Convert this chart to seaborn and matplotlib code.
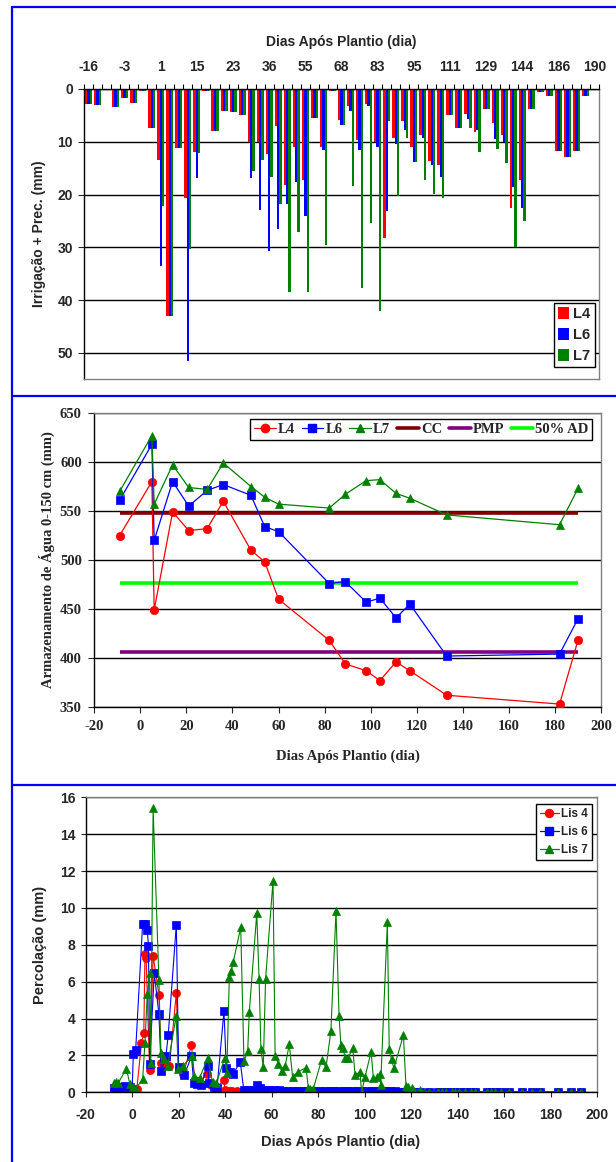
import numpy as np
import pandas as pd
import matplotlib
matplotlib.use("Agg")
import matplotlib.pyplot as plt
import seaborn as sns
from matplotlib.patches import Patch
from matplotlib.lines import Line2D

# ---------------- DATA ----------------
# Panel 1: irrigation + precipitation per event (57 categories, every 4th labelled)
rotulos_dias = ['-16', '-3', '1', '15', '23', '36', '55', '68', '83', '95',
                '111', '129', '144', '186', '190']
irrig_L4 = [2.9, 3.1, 0, 3.5, 1.7, 2.7, 0.4, 7.3, 13.4, 42.9, 11.2, 20.6, 12.0, 0.4, 8.0,
            4.1, 4.4, 4.9, 10.0, 10.0, 12.4, 7.1, 18.1, 10.9, 17.2, 5.5, 11.0, 0.4, 5.9,
            3.3, 9.6, 2.8, 10.0, 28.3, 9.2, 6.1, 11.0, 8.8, 13.6, 14.3, 4.9, 7.3, 4.7,
            8.1, 3.8, 6.4, 8.8, 22.6, 17.2, 3.8, 0.5, 1.3, 11.8, 12.9, 11.7, 1.3, 0]
irrig_L6 = [2.9, 3.1, 0, 3.5, 1.7, 2.7, 0.4, 7.3, 33.6, 42.9, 11.2, 51.6, 16.9, 0.4, 8.0,
            4.1, 4.4, 4.9, 16.9, 22.9, 30.6, 26.6, 21.7, 17.6, 24.1, 5.5, 11.5, 0.4, 6.9,
            4.1, 11.6, 3.3, 10.9, 23.2, 10.4, 7.7, 13.9, 9.2, 14.3, 16.6, 4.9, 7.3, 5.6,
            7.7, 3.8, 9.4, 10.0, 18.6, 22.6, 3.8, 0.5, 1.3, 11.8, 12.9, 11.7, 1.3, 0]
irrig_L7 = [2.9, 3.1, 0, 3.5, 1.7, 2.7, 0.4, 7.3, 22.1, 42.9, 11.2, 30.3, 12.2, 0.4, 8.0,
            4.1, 4.4, 4.9, 15.6, 13.4, 16.6, 21.8, 38.4, 27.1, 38.4, 5.5, 29.5, 0.4, 6.9,
            18.3, 37.6, 25.3, 42.1, 6.1, 20.3, 9.2, 13.9, 17.3, 19.8, 20.6, 4.9, 7.3, 7.4,
            11.9, 3.8, 11.3, 14.1, 30.0, 25.0, 3.8, 0.5, 1.3, 11.8, 12.9, 11.7, 1.3, 0]

# Panel 2: soil water storage 0-150 cm
dias_arm = [-9, 5, 6, 14, 21, 29, 36, 48, 54, 60, 82, 89, 98, 104, 111, 117, 133, 182, 190]
arm_L4 = [525, 580, 449, 549, 530, 532, 560, 510, 498, 460, 418, 394, 387, 377, 396, 387, 362, 353, 418]
arm_L6 = [561, 618, 520, 580, 555, 571, 577, 566, 534, 529, 476, 478, 457, 461, 441, 455, 402, 404, 440]
arm_L7 = [570, 627, 557, 597, 574, 572, 599, 575, 564, 557, 553, 567, 581, 582, 568, 563, 546, 536, 573]
arm_CC = 548
arm_PMP = 406
arm_AD50 = 477

# Panel 3: percolation
cauda_x = [48, 50, 52, 53.5, 55, 57, 59, 61, 63, 65,
           67, 69, 71, 73, 75, 77, 79, 81, 83, 85,
           87, 89, 91, 93, 95, 97, 99, 101, 103, 105,
           107, 109, 111, 113, 115.5, 117, 119, 121, 124, 127.6,
           131.5, 133.2, 134.9, 137.4, 139.1, 140.8, 143.4, 145.9, 147.6, 152.7,
           154.4, 156, 158.6, 162, 167.9, 172.1, 175.5, 183.1, 189, 193.2]
cauda_L4 = [0.02] * 10 + [0.02] * 10 + [0.02] * 10 + [0.02] * 10 + [0.02] * 10 + [0.02] * 10
cauda_L6 = [0.15, 0.12, 0.1, 0.4, 0.25, 0.15, 0.12, 0.1, 0.1, 0.08,
            0.08, 0.07, 0.06, 0.06, 0.05, 0.05, 0.05, 0.05, 0.05, 0.05,
            0.05, 0.05, 0.05, 0.05, 0.05, 0.05, 0.05, 0.05, 0.05, 0.05,
            0.05, 0.05, 0.05, 0.05, 0.04, 0.04, 0.04, 0.04, 0.03, 0.03,
            0.03, 0.03, 0.03, 0.03, 0.03, 0.03, 0.03, 0.03, 0.03, 0.03,
            0.03, 0.03, 0.03, 0.03, 0.03, 0.03, 0.03, 0.03, 0.03, 0.03]
perc_x_L4 = [-8, -7, -6, -5, -2, 0, 1, 2, 4, 5,
             5.5, 6, 7.5, 9, 11.5, 12.5, 14.5, 16, 19, 20,
             22, 25.5, 27, 29, 32, 34, 36, 39.5, 40, 41,
             42, 43, 45, 47] + cauda_x
perc_y_L4 = [0.15, 0.1, 0.12, 0.08, 0.1, 0.1, 0.15, 0.2, 2.65, 3.2,
             7.5, 7.3, 1.2, 7.4, 5.3, 1.6, 1.5, 1.4, 5.4, 1.3,
             1.0, 2.55, 0.6, 0.5, 1.0, 0.4, 0.25, 0.65, 0.1, 0.08,
             0.06, 0.05, 0.05, 0.04] + cauda_L4
perc_x_L6 = [-8, -7, -6, -5, -3, -1, 0, 0.5, 1.5, 4.5,
             5.5, 6.5, 7, 7.5, 9.5, 11.5, 12.5, 14.5, 15.5, 19,
             20, 22.5, 25.5, 26.5, 28, 29.5, 32.5, 33, 35, 36.5,
             39.5, 40.5, 42, 43.5, 46.5] + cauda_x
perc_y_L6 = [0.25, 0.2, 0.25, 0.3, 0.35, 0.3, 0.2, 2.1, 2.3, 9.15,
             9.15, 8.8, 7.95, 1.55, 6.45, 4.25, 1.15, 1.95, 3.1, 9.1,
             1.35, 0.95, 1.95, 0.5, 0.45, 0.4, 1.4, 0.5, 0.3, 0.25,
             4.4, 1.3, 1.1, 1.0, 1.65] + cauda_L6
perc_x_L7 = [-8, -7, -6, -2.5, -1, 0.5, 1.5, 4.5, 5.5, 6.5,
             7.5, 8, 9, 11.5, 12.3, 13.5, 15.3, 18.9, 19.8, 21.7,
             25.6, 26.8, 29, 32.5, 34.6, 36.2, 39.8, 40.7, 41.8, 42.6,
             43.5, 46.7, 48.1, 49.7, 50.4, 53.6, 54.6, 55.4, 56.4, 57.4,
             60.6, 61.5, 62.9, 64.3, 65.8, 67.6, 69, 71.5, 74.8, 75.8,
             76.5, 77.9, 81.5, 83.4, 85.5, 87.7, 89, 89.8, 90.8, 91.6,
             93, 94.9, 95.9, 98, 98.7, 100.2, 102.8, 103.8, 105.5, 106.6,
             106.9, 109.8, 110.6, 111.6, 112.6, 116.7, 117.8, 118.8, 120.2, 121,
             123.8, 127.6, 131.5, 133.2, 134.9, 137.4, 139.1, 140.8, 143.4, 145.9,
             147.6, 152.7, 154.4, 156, 158.6, 162, 167.9, 172.1, 175.5, 183.1,
             189, 193.2]
perc_y_L7 = [0.5, 0.57, 0.5, 1.29, 0.45, 0.3, 0.2, 0.7, 2.7, 5.35,
             6.48, 1.6, 15.4, 6.08, 2.13, 1.8, 1.45, 4.12, 1.29, 1.41,
             1.95, 0.86, 0.78, 1.85, 0.55, 0.48, 1.86, 1.05, 6.23, 6.56,
             7.07, 8.94, 1.69, 2.24, 4.37, 9.7, 6.16, 2.33, 1.39, 6.16,
             11.47, 1.98, 1.53, 1.17, 1.42, 2.6, 0.85, 1.12, 1.33, 0.25,
             0.2, 0.18, 1.75, 1.35, 3.32, 9.85, 4.15, 2.56, 2.38, 1.84,
             1.87, 2.42, 0.93, 1.12, 0.0, 0.84, 2.2, 0.75, 0.81, 0.99,
             0.39, 9.21, 2.33, 1.78, 1.3, 3.1, 0.36, 0.3, 0.21, 0.15,
             0.12, 0.03, 0.02, 0.02, 0.02, 0.02, 0.02, 0.02, 0.02, 0.02,
             0.02, 0.02, 0.02, 0.02, 0.02, 0.02, 0.02, 0.02, 0.02, 0.02,
             0.02, 0.02]

# ---------------- STYLE ----------------
sns.set_style("ticks")
plt.rcParams['font.family'] = ['Liberation Sans', 'DejaVu Sans']
plt.rcParams['font.weight'] = 'bold'

W, H = 616, 1162
fig = plt.figure(figsize=(W / 100, H / 100), dpi=100)
fig.patch.set_facecolor('white')

def add_ax(l, t, r, b):
    return fig.add_axes([l / W, 1 - b / H, (r - l) / W, (b - t) / H])

RED, BLUE, GREEN = '#FF0000', '#0000FF', '#008000'
GRAY = '#808080'
SANS = ['Liberation Sans', 'DejaVu Sans']
SERIF = ['Liberation Serif', 'DejaVu Serif']

def frame(ax, top_col, right_col, bottom_col, left_col):
    for side, c in zip(['top', 'right', 'bottom', 'left'], [top_col, right_col, bottom_col, left_col]):
        ax.spines[side].set_visible(True)
        ax.spines[side].set_color(c)
        ax.spines[side].set_linewidth(1.0)

# ---------------- PANEL 1 ----------------
ax1 = add_ax(84, 89, 599, 379.4)
n = len(irrig_L4)
df1 = pd.DataFrame({
    'evento': list(range(n)) * 3,
    'valor': irrig_L4 + irrig_L6 + irrig_L7,
    'lis': ['L4'] * n + ['L6'] * n + ['L7'] * n,
})
sns.barplot(data=df1, x='evento', y='valor', hue='lis', palette=[RED, BLUE, GREEN],
            saturation=1, width=0.78, errorbar=None, linewidth=0, ax=ax1, legend=False)
ax1.set_ylim(55, 0)
ax1.set_xlim(-0.5, n - 0.5)
ax1.xaxis.tick_top()
ax1.set_xticks(list(range(0, n, 4)))
ax1.set_xticklabels(rotulos_dias, fontsize=10, fontweight='bold')
ax1.set_xticks(np.arange(-0.5, n, 1.0), minor=True)
ax1.tick_params(axis='x', which='major', length=0, pad=11, top=True, bottom=False)
ax1.tick_params(axis='x', which='minor', length=3.6, width=0.8, color='black', top=True, bottom=False)
ax1.set_yticks([0, 10, 20, 30, 40, 50])
ax1.set_yticklabels(['0', '10', '20', '30', '40', '50'], fontsize=10, fontweight='bold')
ax1.tick_params(axis='y', length=4, width=0.8, pad=4)
ax1.yaxis.grid(True, color='black', linewidth=1.0)
ax1.set_axisbelow(True)
ax1.set_xlabel('')
ax1.set_ylabel('')
frame(ax1, 'black', GRAY, GRAY, 'black')
h1 = [Patch(facecolor=c, edgecolor='none') for c in [RED, BLUE, GREEN]]
leg1 = ax1.legend(h1, ['L4', 'L6', 'L7'], loc='upper left',
                  bbox_to_anchor=(554 / W, 1 - 303 / H), bbox_transform=fig.transFigure,
                  frameon=True, fancybox=False, edgecolor='black', framealpha=1,
                  prop={'family': SANS, 'weight': 'bold', 'size': 10.5},
                  handlelength=0.7, handleheight=0.9, handletextpad=0.3, labelspacing=0.45,
                  borderpad=0.3, borderaxespad=0)
leg1.get_frame().set_linewidth(1.0)
fig.text(341.5 / W, 1 - 42 / H, 'Dias Após Plantio (dia)', ha='center', va='center',
         fontsize=10, fontweight='bold', family=SANS)
fig.text(39 / W, 1 - 234 / H, 'Irrigação + Prec. (mm)', ha='center', va='center',
         rotation=90, fontsize=10, fontweight='bold', family=SANS)

# ---------------- PANEL 2 ----------------
ax2 = add_ax(94.3, 413, 601, 707)
ax2.set_xlim(-20, 200)
ax2.set_ylim(350, 650)
ax2.yaxis.grid(True, color='black', linewidth=1.0)
ax2.set_axisbelow(True)
xr = [dias_arm[0], dias_arm[-1]]
ax2.plot(xr, [arm_CC, arm_CC], color='#800000', linewidth=2.6, solid_capstyle='butt', zorder=2)
ax2.plot(xr, [arm_PMP, arm_PMP], color='#800080', linewidth=2.6, solid_capstyle='butt', zorder=2)
ax2.plot(xr, [arm_AD50, arm_AD50], color='#00FF00', linewidth=2.6, solid_capstyle='butt', zorder=2)
for ys, c, m, ms in [(arm_L4, RED, 'o', 6.0), (arm_L6, BLUE, 's', 5.6), (arm_L7, GREEN, '^', 6.2)]:
    sns.lineplot(x=dias_arm, y=ys, ax=ax2, color=c, marker=m, markersize=ms,
                 markeredgecolor=c, markeredgewidth=0.5, linewidth=0.9,
                 estimator=None, sort=False, zorder=3)
ax2.set_xticks(list(range(-20, 201, 20)))
ax2.set_xticklabels([str(v) for v in range(-20, 201, 20)], family=SERIF, fontsize=10.5, fontweight='bold')
ax2.set_yticks(list(range(350, 651, 50)))
ax2.set_yticklabels([str(v) for v in range(350, 651, 50)], family=SERIF, fontsize=10.5, fontweight='bold')
ax2.tick_params(axis='both', length=4, width=0.8, pad=5)
frame(ax2, GRAY, GRAY, 'black', 'black')
h2 = [Line2D([], [], color=RED, marker='o', markersize=6, linewidth=0.9),
      Line2D([], [], color=BLUE, marker='s', markersize=5.5, linewidth=0.9),
      Line2D([], [], color=GREEN, marker='^', markersize=6, linewidth=0.9),
      Line2D([], [], color='#800000', linewidth=2.6),
      Line2D([], [], color='#800080', linewidth=2.6),
      Line2D([], [], color='#00FF00', linewidth=2.6)]
leg2 = ax2.legend(h2, ['L4', 'L6', 'L7', 'CC', 'PMP', '50% AD'], loc='upper right',
                  bbox_to_anchor=(592 / W, 1 - 419 / H), bbox_transform=fig.transFigure,
                  ncol=6, frameon=True, fancybox=False, edgecolor='black', framealpha=1,
                  prop={'family': SERIF, 'weight': 'bold', 'size': 10.5},
                  handlelength=1.5, handletextpad=0.15, columnspacing=0.45,
                  borderpad=0.25, borderaxespad=0)
leg2.get_frame().set_linewidth(1.0)
fig.text(347.5 / W, 1 - 756 / H, 'Dias Após Plantio (dia)', ha='center', va='center',
         fontsize=10.5, fontweight='bold', family=SERIF)
fig.text(47 / W, 1 - 560 / H, 'Armazenamento de Água 0-150 cm (mm)', ha='center', va='center',
         rotation=90, fontsize=10.5, fontweight='bold', family=SERIF)

# ---------------- PANEL 3 ----------------
ax3 = add_ax(85.7, 797.3, 597, 1092.3)
ax3.set_xlim(-20, 200)
ax3.set_ylim(0, 16)
ax3.yaxis.grid(True, color='black', linewidth=1.0)
ax3.set_axisbelow(True)
for xs, ys, c, m, ms in [(perc_x_L4, perc_y_L4, RED, 'o', 5.8),
                         (perc_x_L6, perc_y_L6, BLUE, 's', 5.6),
                         (perc_x_L7, perc_y_L7, GREEN, '^', 6.2)]:
    sns.lineplot(x=xs, y=ys, ax=ax3, color=c, marker=m, markersize=ms,
                 markeredgecolor=c, markeredgewidth=0.5, linewidth=0.8,
                 estimator=None, sort=False)
ax3.set_xticks(list(range(-20, 201, 20)))
ax3.set_xticklabels([str(v) for v in range(-20, 201, 20)], fontsize=10, fontweight='bold', family=SANS)
ax3.set_yticks(list(range(0, 17, 2)))
ax3.set_yticklabels([str(v) for v in range(0, 17, 2)], fontsize=10, fontweight='bold', family=SANS)
ax3.tick_params(axis='both', length=3.5, width=0.8, pad=4)
ax3.tick_params(axis='x', pad=8)
frame(ax3, GRAY, GRAY, 'black', 'black')
h3 = [Line2D([], [], color=RED, marker='o', markersize=5.8, linewidth=0.9),
      Line2D([], [], color=BLUE, marker='s', markersize=5.3, linewidth=0.9),
      Line2D([], [], color=GREEN, marker='^', markersize=5.8, linewidth=0.9)]
leg3 = ax3.legend(h3, ['Lis 4', 'Lis 6', 'Lis 7'], loc='upper right',
                  bbox_to_anchor=(592 / W, 1 - 804 / H), bbox_transform=fig.transFigure,
                  frameon=True, fancybox=False, edgecolor='black', framealpha=1,
                  prop={'family': SANS, 'weight': 'bold', 'size': 8.5},
                  handlelength=1.6, handletextpad=0.2, labelspacing=0.5,
                  borderpad=0.35, borderaxespad=0)
leg3.get_frame().set_linewidth(1.0)
fig.text(341 / W, 1 - 1142 / H, 'Dias Após Plantio (dia)', ha='center', va='center',
         fontsize=10.5, fontweight='bold', family=SANS)
fig.text(40 / W, 1 - 945 / H, 'Percolação (mm)', ha='center', va='center',
         rotation=90, fontsize=10.5, fontweight='bold', family=SANS)

# ---------------- PANEL FRAMES (blue) ----------------
for (x0, y0, x1, y1) in [(12, 7, 616, 7), (12, 396, 616, 396), (12, 785, 616, 785), (12, 7, 12, 1162)]:
    fig.add_artist(Line2D([x0 / W, x1 / W], [1 - y0 / H, 1 - y1 / H], transform=fig.transFigure,
                          color='#0000FF', linewidth=1.6))

fig.savefig('out.png', dpi=100, facecolor='white')
